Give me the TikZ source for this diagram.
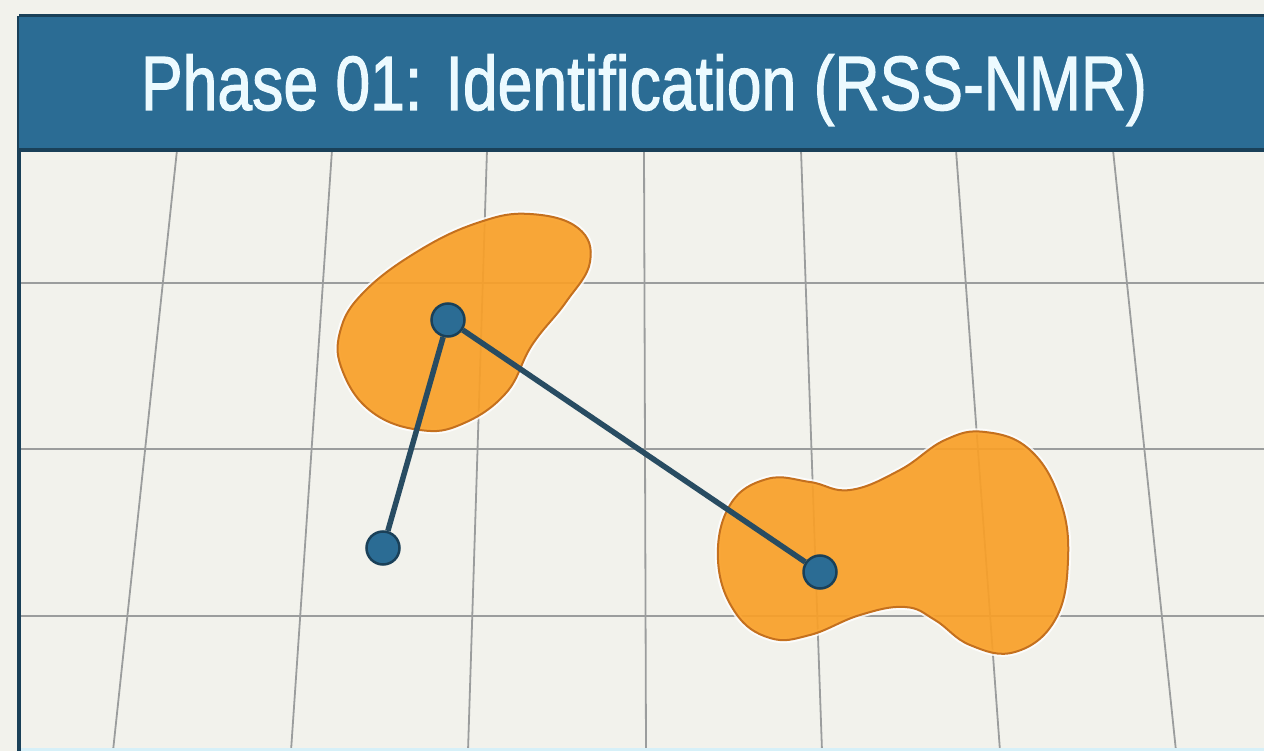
\documentclass[tikz,border=0pt]{standalone}
\usepackage{fontspec}
\setmainfont{Liberation Sans}
\newfontfamily\headfont[BoldFont=Liberation Sans, BoldFeatures={FakeBold=1.6}]{Liberation Sans}
\usepackage{tikz}
\usetikzlibrary{positioning}

\definecolor{paper}{RGB}{242,242,236}
\definecolor{headblue}{RGB}{43,108,148}
\definecolor{headdark}{RGB}{26,64,88}
\definecolor{gridgray}{RGB}{155,157,157}
\definecolor{blobfill}{RGB}{249,160,40}
\definecolor{blobedge}{RGB}{196,112,30}
\definecolor{linkcol}{RGB}{40,76,98}
\definecolor{titlecol}{RGB}{236,250,255}
\definecolor{glowblue}{RGB}{214,240,248}

\begin{document}
\begin{tikzpicture}[
  x=1pt, y=-1pt,
  gridline/.style={draw=gridgray, line width=1.8pt},
  blob/.style={fill=blobfill, fill opacity=0.92, draw=blobedge, line width=2pt},
  halo/.style={draw=white, line width=6pt, opacity=0.8},
  dot/.style={circle, fill=headblue, draw=headdark, line width=2.5pt, minimum size=33pt, inner sep=0pt},
  link/.style={draw=linkcol, line width=5.5pt},
  title/.style={text=titlecol, font=\headfont\bfseries\fontsize{77}{77}\selectfont, inner sep=0pt, anchor=base}
]
\useasboundingbox (0,0) rectangle (1264,751);
\fill[paper] (0,0) rectangle (1264,751);

% grid
\foreach \xt/\xb in {177/113, 332/291, 487/468, 644/646, 801/822, 956/1000, 1113/1176}
  \draw[gridline] (\xt,150) -- (\xb,751);
\foreach \yy in {283, 449, 616}
  \draw[gridline] (19,\yy) -- (1264,\yy);

% frame and header
\draw[glowblue, line width=3pt] (19,749) -- (1264,749);
\draw[headdark, line width=3.5pt] (19,751) -- (19,16);
\fill[headblue] (19,16) rectangle (1266,150);
\draw[headdark, line width=3pt] (19,16) -- (1266,16);
\draw[headdark, line width=4pt] (19,150) -- (1266,150);
\node[title] (head) at (644,110) {\resizebox{1006pt}{\height}{Phase 01: Identification (RSS-NMR)}};

% regions
\draw[halo] plot[smooth cycle, tension=0.7] coordinates {(530,214) (578,228) (590,262) (566,302) (532,345) (506,393) (462,424) (420,430) (372,412) (343,372) (340,332) (364,292) (420,250) (480,222)};
\draw[blob] plot[smooth cycle, tension=0.7] coordinates {(530,214) (578,228) (590,262) (566,302) (532,345) (506,393) (462,424) (420,430) (372,412) (343,372) (340,332) (364,292) (420,250) (480,222)};
\draw[halo] plot[smooth cycle, tension=0.7] coordinates {(718,560) (730,505) (767,479) (810,482) (850,490) (900,470) (945,440) (985,432) (1030,450) (1060,500) (1068,560) (1055,620) (1015,652) (970,645) (935,620) (905,607) (860,615) (810,635) (770,638) (735,612)};
\draw[blob] plot[smooth cycle, tension=0.7] coordinates {(718,560) (730,505) (767,479) (810,482) (850,490) (900,470) (945,440) (985,432) (1030,450) (1060,500) (1068,560) (1055,620) (1015,652) (970,645) (935,620) (905,607) (860,615) (810,635) (770,638) (735,612)};

% anchors and links
\node[dot] (hub) at (448,320) {};
\node[dot] (probe) at (383,548) {};
\node[dot] (target) at (820,572) {};
\draw[link] (hub) -- (probe);
\draw[link] (hub) -- (target);
\end{tikzpicture}
\end{document}
